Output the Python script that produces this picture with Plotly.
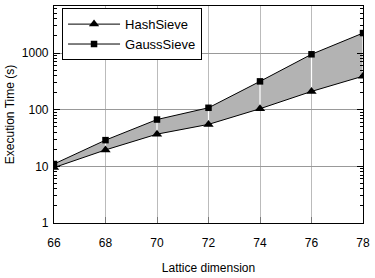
import plotly.graph_objects as go

dims = [66, 68, 70, 72, 74, 76, 78]
hash_sieve = [9.5, 19.5, 37, 55, 104, 210, 390]
gauss_sieve = [11, 29, 67, 108, 316, 950, 2250]
y_ticks = [1, 10, 100, 1000]
y_labels = ["1", "10", "100", "1000"]

fig = go.Figure()

# fill between the two series
fig.add_trace(go.Scatter(x=dims, y=hash_sieve, mode="lines", line=dict(width=0, color="black"),
                         showlegend=False, hoverinfo="skip"))
fig.add_trace(go.Scatter(x=dims, y=gauss_sieve, mode="lines", line=dict(width=0, color="black"),
                         fill="tonexty", fillcolor="#b3b3b3", showlegend=False, hoverinfo="skip"))

# white separators in the fill
sx, sy = [], []
for d, h, g in zip(dims, hash_sieve, gauss_sieve):
    sx += [d, d, None]
    sy += [h, g, None]
fig.add_trace(go.Scatter(x=sx, y=sy, mode="lines", line=dict(width=1.2, color="white"),
                         showlegend=False, hoverinfo="skip"))

fig.add_trace(go.Scatter(x=dims, y=hash_sieve, mode="lines+markers", name="HashSieve",
                         line=dict(width=1, color="black"),
                         marker=dict(symbol="triangle-up", size=9, color="black")))
fig.add_trace(go.Scatter(x=dims, y=gauss_sieve, mode="lines+markers", name="GaussSieve",
                         line=dict(width=1, color="black"),
                         marker=dict(symbol="square", size=6.5, color="black")))

fig.update_layout(
    width=375, height=278,
    margin=dict(l=54, r=9, t=5, b=51),
    paper_bgcolor="white", plot_bgcolor="white",
    font=dict(family="Liberation Sans, Arial, sans-serif", size=12, color="black"),
    showlegend=True,
    legend=dict(x=0.026, y=0.99, xanchor="left", yanchor="top", traceorder="normal",
                bordercolor="black", borderwidth=1, bgcolor="white",
                font=dict(size=13), tracegroupgap=0, itemwidth=52),
)

fig.update_xaxes(
    range=[66, 78], tickvals=dims, ticktext=[str(d) for d in dims],
    showgrid=True, gridcolor="#bbbbbb", gridwidth=1,
    showline=True, linecolor="black", linewidth=1.2, mirror=True,
    ticks="inside", ticklen=6, tickcolor="#777777",
    ticklabelstandoff=8,
    zeroline=False,
    tickfont=dict(size=12),
    title=dict(text="Lattice dimension", standoff=15, font=dict(size=12)),
)
fig.update_yaxes(
    type="log", range=[0, 3.83],
    tickvals=y_ticks, ticktext=y_labels,
    showgrid=True, gridcolor="#999999", gridwidth=1,
    showline=True, linecolor="black", linewidth=1.2, mirror="allticks",
    ticks="inside", ticklen=6, tickcolor="black",
    minor=dict(ticks="inside", ticklen=3, tickcolor="black", dtick="D1", showgrid=False),
    zeroline=False,
    tickfont=dict(size=12),
    ticklabelstandoff=2,
    title=dict(text="Execution Time (s)", standoff=4, font=dict(size=12)),
)

fig.write_html("out.html")
